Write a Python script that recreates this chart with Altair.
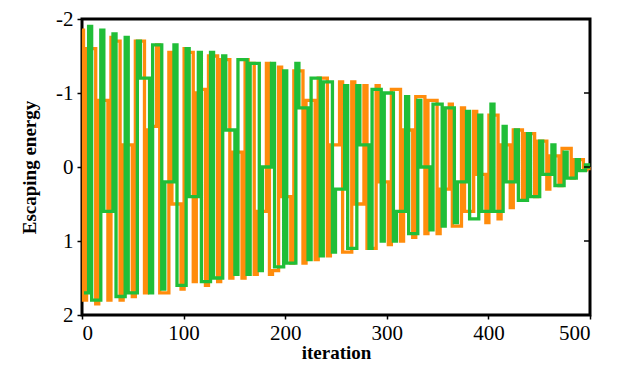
import altair as alt
import pandas as pd

# Iterations sampled for each swarm member
orange_iter = list(range(0, 499, 3)) + [500]
green_iter = list(range(2, 501, 3))

orange_energy = [
    -1.85, 1.8, -1.6, -1.6, -1.6, 1.85, -0.9, -0.9,
    -0.9, 1.8, -1.75, -1.7, -1.7, 1.8, -0.3, -0.3,
    -0.3, 1.75, -1.7, -1.7, -1.7, 1.7, -0.5, -0.55,
    -0.55, -1.65, 1.7, 1.7, 1.7, -1.55, 0.5, 0.5,
    0.5, 1.65, -1.6, -1.55, -1.55, 1.55, -1.0, -1.05,
    -1.05, 1.6, -1.5, -1.5, -1.5, 1.55, -1.45, -1.45,
    -1.45, 1.5, -0.2, -0.2, -0.2, 1.5, -1.45, -1.4,
    -1.4, 1.45, 0.6, 0.6, 0.6, -1.4, 1.45, 1.4,
    1.4, -1.35, 0.4, 0.4, 0.4, 1.3, -1.3, -1.3,
    -1.3, 1.3, -0.9, -0.9, -0.9, 1.25, -1.2, -1.2,
    -1.2, 1.2, -0.3, -0.3, -0.3, -1.15, 1.15, 1.15,
    1.15, -1.15, 0.5, 0.5, 0.5, -1.1, 1.1, 1.1,
    1.1, -1.1, 0.2, 0.2, 0.2, 1.05, -1.05, -1.05,
    -1.05, 1.0, -0.5, -0.5, -0.5, 0.95, -0.95, -0.95,
    -0.95, 0.9, -0.9, -0.9, -0.9, 0.9, 0.3, 0.3,
    0.3, -0.85, 0.8, 0.8, 0.8, -0.8, 0.6, 0.6,
    0.6, -0.75, 0.1, 0.1, 0.1, 0.75, -0.7, -0.7,
    -0.7, 0.7, -0.3, -0.3, -0.3, 0.55, -0.5, -0.5,
    -0.5, 0.45, -0.45, -0.45, -0.45, 0.4, -0.35, -0.35,
    -0.35, 0.3, -0.15, -0.15, -0.15, 0.25, -0.25, -0.25,
    -0.25, 0.15, -0.1, -0.1, -0.1, 0.04, 0.02, 0.0,
]

green_energy = [
    1.7, 1.7, -1.9, 1.8, 1.8, 1.8, -1.85, 0.6,
    0.6, 0.6, -1.8, 1.75, 1.75, 1.75, -1.75, 1.7,
    1.7, 1.7, -1.7, -1.2, -1.2, -1.2, 1.7, -1.65,
    -1.65, -1.65, 1.65, 0.2, 0.2, 0.2, -1.65, 1.6,
    1.6, 1.6, -1.6, 0.4, 0.4, 0.4, -1.55, 1.55,
    1.55, 1.55, -1.55, 1.5, 1.5, 1.5, -1.5, -0.5,
    -0.5, -0.5, 1.45, -1.45, -1.45, -1.45, 1.45, -1.4,
    -1.4, -1.4, 1.4, 0.0, 0.0, 0.0, -1.4, 1.35,
    1.35, 1.35, -1.3, 1.3, 1.3, 1.3, -1.4, -0.8,
    -0.8, -0.8, 1.25, -1.2, -1.2, -1.2, 1.2, -1.15,
    -1.15, -1.15, 1.15, 0.3, 0.3, 0.3, -1.1, 1.1,
    1.1, 1.1, -1.1, -0.3, -0.3, -0.3, 1.1, -1.05,
    -1.05, -1.05, 1.0, -1.0, -1.0, -1.0, 1.0, 0.6,
    0.6, 0.6, -0.95, 0.9, 0.9, 0.9, -0.9, 0.0,
    0.0, 0.0, 0.85, -0.85, -0.85, -0.85, 0.8, -0.8,
    -0.8, -0.8, 0.75, 0.2, 0.2, 0.2, -0.75, 0.7,
    0.7, 0.7, -0.7, 0.6, 0.6, 0.6, -0.85, 0.6,
    0.6, 0.6, -0.55, 0.2, 0.2, 0.2, -0.5, 0.45,
    0.45, 0.45, -0.45, 0.4, 0.4, 0.4, -0.35, 0.1,
    0.1, 0.1, -0.3, 0.25, 0.25, 0.25, -0.2, 0.15,
    0.15, 0.15, -0.1, 0.05, 0.05, -0.03, 0.0,
]

x_ticks = [0, 100, 200, 300, 400, 500]
y_ticks = [-2, -1, 0, 1, 2]
right_ticks = [-1, 0, 1]

FONT = "Liberation Serif"
W, H = 508, 296

orange_df = pd.DataFrame({"iteration": orange_iter, "energy": orange_energy})
green_df = pd.DataFrame({"iteration": green_iter, "energy": green_energy})
tick_df = pd.DataFrame({"energy": right_ticks})

x_enc = alt.X(
    "iteration:Q",
    scale=alt.Scale(domain=[0, 500], nice=False),
    axis=alt.Axis(
        values=x_ticks, title="iteration", grid=False, domain=False,
        labelExpr="'' + datum.value",
        labelFont=FONT, labelFontSize=21, labelColor="black",
        tickColor="black", tickSize=4, tickWidth=1.5, labelPadding=3,
        titleFont=FONT, titleFontSize=19, titleFontWeight="bold",
        titleColor="black", titlePadding=0,
    ),
)
y_enc = alt.Y(
    "energy:Q",
    scale=alt.Scale(domain=[-2, 2], reverse=True, nice=False),
    axis=alt.Axis(
        values=y_ticks, title="Escaping energy", grid=False, domain=False,
        labelExpr="'' + datum.value",
        labelFont=FONT, labelFontSize=21, labelColor="black",
        tickColor="black", tickSize=5, tickWidth=1.5, labelPadding=4,
        titleFont=FONT, titleFontSize=19, titleFontWeight="bold",
        titleColor="black", titlePadding=16,
    ),
)

orange = alt.Chart(orange_df).mark_line(
    color="#FF8C0C", strokeWidth=3.3, interpolate="step", strokeJoin="miter"
).encode(x=x_enc, y=y_enc)

green = alt.Chart(green_df).mark_line(
    color="#20BE38", strokeWidth=3.3, interpolate="step", strokeJoin="miter"
).encode(x=x_enc, y=y_enc)

rticks = alt.Chart(tick_df).mark_rule(color="black", strokeWidth=1.5).encode(
    y="energy:Q", x=alt.value(W - 6), x2=alt.value(W)
)

chart = (
    alt.layer(orange, green, rticks)
    .properties(
        width=W, height=H, autosize="none", background="white",
        padding={"left": 74, "top": 11, "right": 20, "bottom": 50},
    )
    .configure_view(stroke="black", strokeWidth=3)
)

chart.save("out.html", embed_options={"renderer": "svg", "actions": False})
